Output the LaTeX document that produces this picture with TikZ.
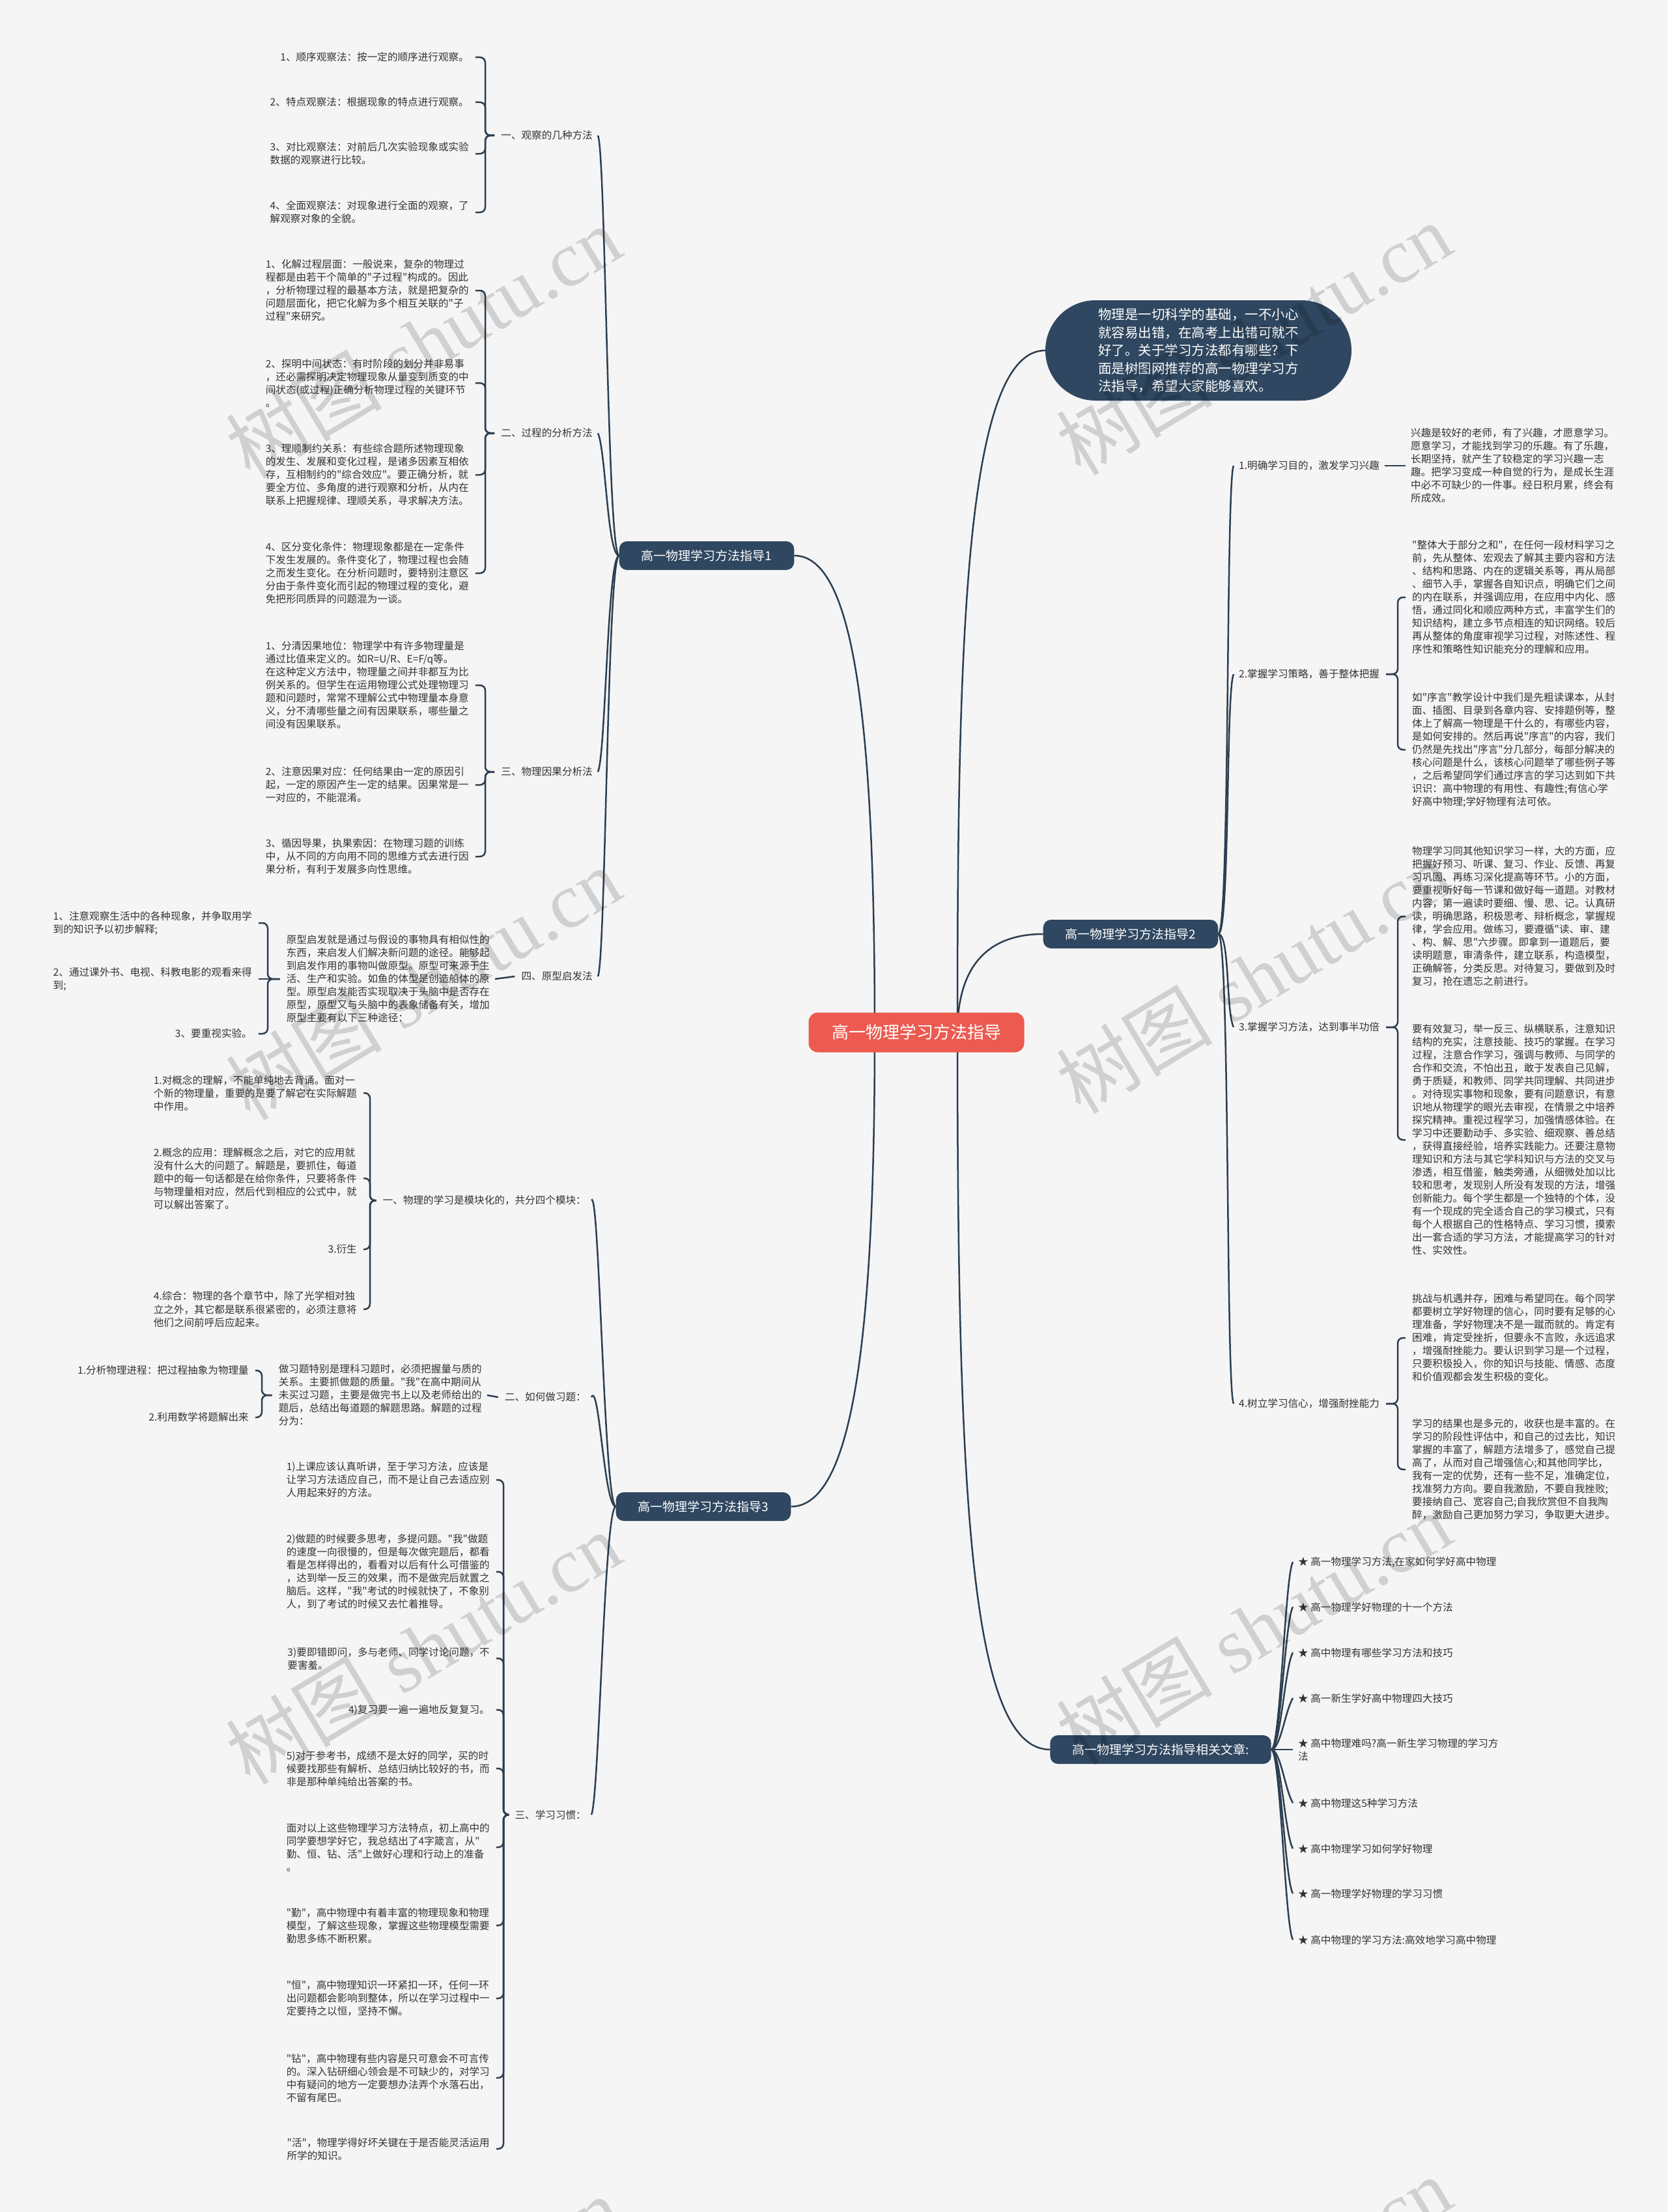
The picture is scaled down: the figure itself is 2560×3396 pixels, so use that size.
\documentclass[tikz,border=0pt]{standalone}
\usepackage{fontspec}
\setmainfont{Noto Sans CJK SC}[Ligatures=TeXOff]
\newfontfamily\wmserif{Liberation Serif}
\usetikzlibrary{calc}
\definecolor{bgc}{HTML}{F5F5F5}
\definecolor{lk}{HTML}{2C3E50}
\definecolor{nd}{HTML}{2F4760}
\definecolor{rt}{HTML}{EC5A50}
\definecolor{tx}{HTML}{333333}
\pgfdeclarelayer{back}
\pgfdeclarelayer{edges}
\pgfsetlayers{back,edges,main}
\newcommand\lnkL[3]{\draw[conn] ([xshift=-10pt]#1.west) -- (#1.west -| #3) -- (#2.east -| #3) -- ([xshift=10pt]#2.east);}
\newcommand\lnkR[3]{\draw[conn] ([xshift=10pt]#1.east) -- (#1.east -| #3) -- (#2.west -| #3) -- ([xshift=-10pt]#2.west);}
\newcommand\crvL[3]{\draw[curv] (#1.west) .. controls +(-18,0) and +(12,#3) .. ([xshift=8pt]#2.east);}
\newcommand\crvR[3]{\draw[curv] (#1.east) .. controls +(18,0) and +(-12,#3) .. ([xshift=-8pt]#2.west);}
\newcommand\crvA[3]{\draw[curv] (#1.east) .. controls +(14,0) and +(-12,#3) .. ([xshift=-8pt]#2.west);}
\begin{document}
\begin{tikzpicture}[x=1pt,y=-1pt,
  conn/.style={draw=lk, line width=2.5pt, rounded corners=8pt},
  curv/.style={draw=lk, line width=2.5pt},
  txt/.style={font=\fontsize{15.6}{20}\selectfont, align=left, inner sep=0pt, text=tx},
  root/.style={fill=rt, rounded corners=14pt, minimum width=331pt, minimum height=61pt, font=\fontsize{26}{30}\selectfont, text=white},
  intro/.style={fill=nd, rounded corners=77pt, minimum width=470pt, minimum height=154pt, text=white, font=\fontsize{20.5}{27.5}\selectfont, align=left},
  br/.style={fill=nd, rounded corners=12pt, minimum height=44pt, inner xsep=34pt, text=white, font=\fontsize{19}{22}\selectfont},
  wm/.style={rotate=31, font=\fontsize{120}{120}\selectfont, text=black, text opacity=0.15, inner sep=0pt}
]
\begin{pgfonlayer}{back}
\fill[bgc] (0,0) rectangle (2560,3396);
\end{pgfonlayer}
\useasboundingbox (0,0) rectangle (2560,3396);

% trunk coordinates
\coordinate (Ta) at (745,0);
\coordinate (Td) at (411,0);
\coordinate (Tp) at (568,0);
\coordinate (Tq) at (402,0);
\coordinate (Ts) at (773,0);
\coordinate (Tr) at (2146,0);

% main nodes
\node[root] (root) at (1407,1585) {高一物理学习方法指导};
\node[intro] (intro) at (1840,538) {物理是一切科学的基础，一不小心\\就容易出错，在高考上出错可就不\\好了。关于学习方法都有哪些？下\\面是树图网推荐的高一物理学习方\\法指导，希望大家能够喜欢。};
\node[br] (b1) at (1085,853) {高一物理学习方法指导1};
\node[br] (b2) at (1736,1434) {高一物理学习方法指导2};
\node[br] (b3) at (1080,2313) {高一物理学习方法指导3};
\node[br] (b4) at (1782,2686) {高一物理学习方法指导相关文章:};

% branch 1 labels
\node[txt, anchor=east] (a1) at (910,208) {一、观察的几种方法};
\node[txt, anchor=east] (a2) at (910,665) {二、过程的分析方法};
\node[txt, anchor=east] (a3) at (910,1185) {三、物理因果分析法};
\node[txt, anchor=east] (a4) at (910,1499) {四、原型启发法};

\node[txt, anchor=east] (n11) at (720,88) {1、顺序观察法：按一定的顺序进行观察。};
\node[txt, anchor=east] (n12) at (720,157) {2、特点观察法：根据现象的特点进行观察。};
\node[txt, anchor=east] (n13) at (720,236) {3、对比观察法：对前后几次实验现象或实验\\数据的观察进行比较。};
\node[txt, anchor=east] (n14) at (720,326) {4、全面观察法：对现象进行全面的观察，了\\解观察对象的全貌。};

\node[txt, anchor=east] (n21) at (720,446) {1、化解过程层面：一般说来，复杂的物理过\\程都是由若干个简单的"子过程"构成的。因此\\，分析物理过程的最基本方法，就是把复杂的\\问题层面化，把它化解为多个相互关联的"子\\过程"来研究。};
\node[txt, anchor=east] (n22) at (720,588) {2、探明中间状态：有时阶段的划分并非易事\\，还必需探明决定物理现象从量变到质变的中\\间状态(或过程)正确分析物理过程的关键环节\\。};
\node[txt, anchor=east] (n23) at (720,729) {3、理顺制约关系：有些综合题所述物理现象\\的发生、发展和变化过程，是诸多因素互相依\\存，互相制约的"综合效应"。要正确分析，就\\要全方位、多角度的进行观察和分析，从内在\\联系上把握规律、理顺关系，寻求解决方法。};
\node[txt, anchor=east] (n24) at (720,880) {4、区分变化条件：物理现象都是在一定条件\\下发生发展的。条件变化了，物理过程也会随\\之而发生变化。在分析问题时，要特别注意区\\分由于条件变化而引起的物理过程的变化，避\\免把形同质异的问题混为一谈。};

\node[txt, anchor=east] (n31) at (720,1052) {1、分清因果地位：物理学中有许多物理量是\\通过比值来定义的。如R=U/R、E=F/q等。\\在这种定义方法中，物理量之间并非都互为比\\例关系的。但学生在运用物理公式处理物理习\\题和问题时，常常不理解公式中物理量本身意\\义，分不清哪些量之间有因果联系，哪些量之\\间没有因果联系。};
\node[txt, anchor=east] (n32) at (720,1205) {2、注意因果对应：任何结果由一定的原因引\\起，一定的原因产生一定的结果。因果常是一\\一对应的，不能混淆。};
\node[txt, anchor=east] (n33) at (720,1315) {3、循因导果，执果索因：在物理习题的训练\\中，从不同的方向用不同的思维方式去进行因\\果分析，有利于发展多向性思维。};

\node[txt, anchor=east] (m4) at (752,1503) {原型启发就是通过与假设的事物具有相似性的\\东西，来启发人们解决新问题的途径。能够起\\到启发作用的事物叫做原型。原型可来源于生\\活、生产和实验。如鱼的体型是创造船体的原\\型。原型启发能否实现取决于头脑中是否存在\\原型，原型又与头脑中的表象储备有关，增加\\原型主要有以下三种途径：};
\node[txt, anchor=east] (n41) at (387,1417) {1、注意观察生活中的各种现象，并争取用学\\到的知识予以初步解释;};
\node[txt, anchor=east] (n42) at (387,1503) {2、通过课外书、电视、科教电影的观看来得\\到;};
\node[txt, anchor=east] (n43) at (387,1587) {3、要重视实验。};

% branch 3
\node[txt, anchor=east] (c1) at (900,1843) {一、物理的学习是模块化的，共分四个模块：};
\node[txt, anchor=east] (c2) at (900,2145) {二、如何做习题：};
\node[txt, anchor=east] (c3) at (900,2786) {三、学习习惯：};

\node[txt, anchor=east] (p1) at (548,1678) {1.对概念的理解，不能单纯地去背诵。面对一\\个新的物理量，重要的是要了解它在实际解题\\中作用。};
\node[txt, anchor=east] (p2) at (548,1809) {2.概念的应用：理解概念之后，对它的应用就\\没有什么大的问题了。解题是，要抓住，每道\\题中的每一句话都是在给你条件，只要将条件\\与物理量相对应，然后代到相应的公式中，就\\可以解出答案了。};
\node[txt, anchor=east] (p3) at (548,1918) {3.衍生};
\node[txt, anchor=east] (p4) at (548,2010) {4.综合：物理的各个章节中，除了光学相对独\\立之外，其它都是联系很紧密的，必须注意将\\他们之间前呼后应起来。};

\node[txt, anchor=east] (m5) at (740,2142) {做习题特别是理科习题时，必须把握量与质的\\关系。主要抓做题的质量。"我"在高中期间从\\未买过习题，主要是做完书上以及老师给出的\\题后，总结出每道题的解题思路。解题的过程\\分为：};
\node[txt, anchor=east] (q1) at (382,2104) {1.分析物理进程：把过程抽象为物理量};
\node[txt, anchor=east] (q2) at (382,2176) {2.利用数学将题解出来};

\node[txt, anchor=east] (s1) at (752,2272) {1)上课应该认真听讲，至于学习方法，应该是\\让学习方法适应自己，而不是让自己去适应别\\人用起来好的方法。};
\node[txt, anchor=east] (s2) at (752,2413) {2)做题的时候要多思考，多提问题。"我"做题\\的速度一向很慢的，但是每次做完题后，都看\\看是怎样得出的，看看对以后有什么可借鉴的\\，达到举一反三的效果，而不是做完后就置之\\脑后。这样，"我"考试的时候就快了，不象别\\人，到了考试的时候又去忙着推导。};
\node[txt, anchor=east] (s3) at (752,2546) {3)要即错即问，多与老师、同学讨论问题，不\\要害羞。};
\node[txt, anchor=east] (s4) at (752,2625) {4)复习要一遍一遍地反复复习。};
\node[txt, anchor=east] (s5) at (752,2715) {5)对于参考书，成绩不是太好的同学，买的时\\候要找那些有解析、总结归纳比较好的书，而\\非是那种单纯给出答案的书。};
\node[txt, anchor=east] (s6) at (752,2836) {面对以上这些物理学习方法特点，初上高中的\\同学要想学好它，我总结出了4字箴言，从"\\勤、恒、钻、活"上做好心理和行动上的准备\\。};
\node[txt, anchor=east] (s7) at (752,2956) {"勤"，高中物理中有着丰富的物理现象和物理\\模型，了解这些现象，掌握这些物理模型需要\\勤思多练不断积累。};
\node[txt, anchor=east] (s8) at (752,3068) {"恒"，高中物理知识一环紧扣一环，任何一环\\出问题都会影响到整体，所以在学习过程中一\\定要持之以恒，坚持不懈。};
\node[txt, anchor=east] (s9) at (752,3190) {"钻"，高中物理有些内容是只可意会不可言传\\的。深入钻研细心领会是不可缺少的，对学习\\中有疑问的地方一定要想办法弄个水落石出，\\不留有尾巴。};
\node[txt, anchor=east] (s10) at (752,3299) {"活"，物理学得好坏关键在于是否能灵活运用\\所学的知识。};

% branch 2
\node[txt, anchor=west] (d1) at (1902,715) {1.明确学习目的，激发学习兴趣};
\node[txt, anchor=west] (d2) at (1902,1035) {2.掌握学习策略，善于整体把握};
\node[txt, anchor=west] (d3) at (1902,1577) {3.掌握学习方法，达到事半功倍};
\node[txt, anchor=west] (d4) at (1902,2155) {4.树立学习信心，增强耐挫能力};

\node[txt, anchor=west] (e1) at (2166,715) {兴趣是较好的老师，有了兴趣，才愿意学习。\\愿意学习，才能找到学习的乐趣。有了乐趣，\\长期坚持，就产生了较稳定的学习兴趣一志\\趣。把学习变成一种自觉的行为，是成长生涯\\中必不可缺少的一件事。经日积月累，终会有\\所成效。};
\node[txt, anchor=west] (f1) at (2168,917) {"整体大于部分之和"，在任何一段材料学习之\\前，先从整体、宏观去了解其主要内容和方法\\、结构和思路、内在的逻辑关系等，再从局部\\、细节入手，掌握各自知识点，明确它们之间\\的内在联系，并强调应用，在应用中内化、感\\悟，通过同化和顺应两种方式，丰富学生们的\\知识结构，建立多节点相连的知识网络。较后\\再从整体的角度审视学习过程，对陈述性、程\\序性和策略性知识能充分的理解和应用。};
\node[txt, anchor=west] (f2) at (2168,1151) {如"序言"教学设计中我们是先粗读课本，从封\\面、插图、目录到各章内容、安排题例等，整\\体上了解高一物理是干什么的，有哪些内容，\\是如何安排的。然后再说"序言"的内容，我们\\仍然是先找出"序言"分几部分，每部分解决的\\核心问题是什么，该核心问题举了哪些例子等\\，之后希望同学们通过序言的学习达到如下共\\识识：高中物理的有用性、有趣性;有信心学\\好高中物理;学好物理有法可依。};
\node[txt, anchor=west] (f3) at (2168,1407) {物理学习同其他知识学习一样，大的方面，应\\把握好预习、听课、复习、作业、反馈、再复\\习巩固、再练习深化提高等环节。小的方面，\\要重视听好每一节课和做好每一道题。对教材\\内容，第一遍读时要细、慢、思、记。认真研\\读，明确思路，积极思考、辩析概念，掌握规\\律，学会应用。做练习，要遵循"读、审、建\\、构、解、思"六步骤。即拿到一道题后，要\\读明题意，审清条件，建立联系，构造模型，\\正确解答，分类反思。对待复习，要做到及时\\复习，抢在遗忘之前进行。};
\node[txt, anchor=west] (f4) at (2168,1750) {要有效复习，举一反三、纵横联系，注意知识\\结构的充实，注意技能、技巧的掌握。在学习\\过程，注意合作学习，强调与教师、与同学的\\合作和交流，不怕出丑，敢于发表自己见解，\\勇于质疑，和教师、同学共同理解、共同进步\\。对待现实事物和现象，要有问题意识，有意\\识地从物理学的眼光去审视，在情景之中培养\\探究精神。重视过程学习，加强情感体验。在\\学习中还要勤动手、多实验、细观察、善总结\\，获得直接经验，培养实践能力。还要注意物\\理知识和方法与其它学科知识与方法的交叉与\\渗透，相互借鉴，触类旁通，从细微处加以比\\较和思考，发现别人所没有发现的方法，增强\\创新能力。每个学生都是一个独特的个体，没\\有一个现成的完全适合自己的学习模式，只有\\每个人根据自己的性格特点、学习习惯，摸索\\出一套合适的学习方法，才能提高学习的针对\\性、实效性。};
\node[txt, anchor=west] (f5) at (2168,2054) {挑战与机遇并存，困难与希望同在。每个同学\\都要树立学好物理的信心，同时要有足够的心\\理准备，学好物理决不是一蹴而就的。肯定有\\困难，肯定受挫折，但要永不言败，永远追求\\，增强耐挫能力。要认识到学习是一个过程，\\只要积极投入，你的知识与技能、情感、态度\\和价值观都会发生积极的变化。};
\node[txt, anchor=west] (f6) at (2168,2256) {学习的结果也是多元的，收获也是丰富的。在\\学习的阶段性评估中，和自己的过去比，知识\\掌握的丰富了，解题方法增多了，感觉自己提\\高了，从而对自己增强信心;和其他同学比，\\我有一定的优势，还有一些不足，准确定位，\\找准努力方向。要自我激励，不要自我挫败;\\要接纳自己、宽容自己;自我欣赏但不自我陶\\醉，激励自己更加努力学习，争取更大进步。};

% related articles
\node[txt, anchor=west] (r1) at (1993,2398) {★ 高一物理学习方法,在家如何学好高中物理};
\node[txt, anchor=west] (r2) at (1993,2467) {★ 高一物理学好物理的十一个方法};
\node[txt, anchor=west] (r3) at (1993,2537) {★ 高中物理有哪些学习方法和技巧};
\node[txt, anchor=west] (r4) at (1993,2607) {★ 高一新生学好高中物理四大技巧};
\node[txt, anchor=west] (r5) at (1993,2686) {★ 高中物理难吗?高一新生学习物理的学习方\\法};
\node[txt, anchor=west] (r6) at (1993,2768) {★ 高中物理这5种学习方法};
\node[txt, anchor=west] (r7) at (1993,2838) {★ 高中物理学习如何学好物理};
\node[txt, anchor=west] (r8) at (1993,2907) {★ 高一物理学好物理的学习习惯};
\node[txt, anchor=west] (r9) at (1993,2978) {★ 高中物理的学习方法:高效地学习高中物理};

\begin{pgfonlayer}{edges}
% root to branches
\draw[curv] (1343,1585) .. controls (1343,1100) and (1310,853) .. (b1.east);
\draw[curv] (1343,1585) .. controls (1343,2050) and (1310,2313) .. (b3.east);
\draw[curv] (1470,1585) .. controls (1470,1000) and (1480,538) .. (intro.west);
\draw[curv] (1470,1585) .. controls (1470,1460) and (1540,1434) .. (b2.west);
\draw[curv] (1470,1585) .. controls (1470,2300) and (1490,2686) .. (b4.west);
% branch 1
\crvL{b1}{a1}{25}
\crvL{b1}{a2}{25}
\crvL{b1}{a3}{-25}
\crvL{b1}{a4}{-25}
\lnkL{a1}{n11}{Ta}\lnkL{a1}{n12}{Ta}\lnkL{a1}{n13}{Ta}\lnkL{a1}{n14}{Ta}
\lnkL{a2}{n21}{Ta}\lnkL{a2}{n22}{Ta}\lnkL{a2}{n23}{Ta}\lnkL{a2}{n24}{Ta}
\lnkL{a3}{n31}{Ta}\lnkL{a3}{n32}{Ta}\lnkL{a3}{n33}{Ta}
\draw[conn] ([xshift=8pt]m4.east) -- ([xshift=-10pt]a4.west);
\lnkL{m4}{n41}{Td}\lnkL{m4}{n43}{Td}
\draw[conn] ([xshift=-10pt]m4.west) -- ([xshift=10pt]n42.east);
% branch 3
\crvL{b3}{c1}{-25}
\crvL{b3}{c2}{-25}
\crvL{b3}{c3}{-25}
\lnkL{c1}{p1}{Tp}\lnkL{c1}{p2}{Tp}\lnkL{c1}{p3}{Tp}\lnkL{c1}{p4}{Tp}
\draw[conn] ([xshift=8pt]m5.east) -- ([xshift=-10pt]c2.west);
\lnkL{m5}{q1}{Tq}\lnkL{m5}{q2}{Tq}
\lnkL{c3}{s1}{Ts}\lnkL{c3}{s2}{Ts}\lnkL{c3}{s3}{Ts}\lnkL{c3}{s4}{Ts}\lnkL{c3}{s5}{Ts}
\lnkL{c3}{s6}{Ts}\lnkL{c3}{s7}{Ts}\lnkL{c3}{s8}{Ts}\lnkL{c3}{s9}{Ts}\lnkL{c3}{s10}{Ts}
% branch 2
\crvR{b2}{d1}{25}
\crvR{b2}{d2}{25}
\crvR{b2}{d3}{-25}
\crvR{b2}{d4}{-25}
\draw[conn] ([xshift=8pt]d1.east) -- ([xshift=-8pt]e1.west);
\lnkR{d2}{f1}{Tr}\lnkR{d2}{f2}{Tr}
\lnkR{d3}{f3}{Tr}\lnkR{d3}{f4}{Tr}
\lnkR{d4}{f5}{Tr}\lnkR{d4}{f6}{Tr}
% related
\crvA{b4}{r1}{20}\crvA{b4}{r2}{20}\crvA{b4}{r3}{20}\crvA{b4}{r4}{20}
\draw[curv] (b4.east) -- ([xshift=-8pt]r5.west);
\crvA{b4}{r6}{-20}\crvA{b4}{r7}{-20}\crvA{b4}{r8}{-20}\crvA{b4}{r9}{-20}
\end{pgfonlayer}

% watermarks
\foreach \wx/\wy [count=\i] in {650/525, 1925/520, 650/1510, 1925/1500, 650/2530, 1925/2500, 650/3550, 1925/3520}
  \node[wm] (wm\i) at (\wx,\wy) {树图\hspace{0.25em}{\wmserif shutu.cn}};
\end{tikzpicture}
\end{document}
